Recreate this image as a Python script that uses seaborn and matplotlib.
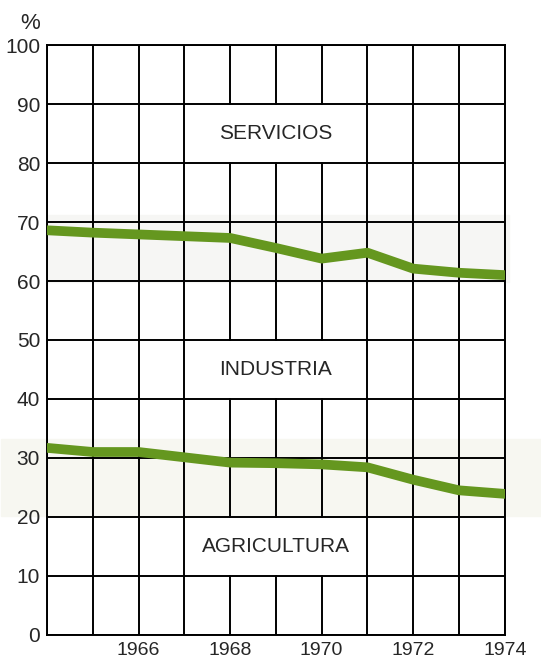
import pandas as pd
import matplotlib.pyplot as plt
import seaborn as sns
from matplotlib.patches import Rectangle

# Datos (porcentaje de la poblacion activa)
years = [1964, 1965, 1966, 1967, 1968, 1969, 1970, 1971, 1972, 1973, 1974]
# limite superior de industria (agricultura + industria)
industria_top = [68.6, 68.2, 67.9, 67.6, 67.3, 65.6, 63.8, 64.8, 62.1, 61.4, 61.0]
# limite superior de agricultura
agricultura_top = [31.7, 31.0, 31.0, 30.1, 29.2, 29.1, 28.9, 28.4, 26.3, 24.5, 23.9]

x_labels = ['', '', '1966', '', '1968', '', '1970', '', '1972', '', '1974']
y_ticks = [0, 10, 20, 30, 40, 50, 60, 70, 80, 90, 100]
sector_names = ['SERVICIOS', 'INDUSTRIA', 'AGRICULTURA']
sector_y = [85, 45, 15]

green = '#65971f'

df = pd.DataFrame({
    'year': years * 2,
    'value': industria_top + agricultura_top,
    'serie': ['industria'] * len(years) + ['agricultura'] * len(years),
})

sns.set_style('white')
plt.rcParams['font.family'] = ['Liberation Sans', 'DejaVu Sans']

fig = plt.figure(figsize=(5.41, 6.64), dpi=100)
ax = fig.add_axes([0.087, 0.044, 0.846, 0.888])

# bandas claras detras de las lineas
ax.axhspan(59.8, 71.2, xmin=0, xmax=1.01, color='#f6f6f4', zorder=0, clip_on=False)
ax.axhspan(20.2, 33.2, xmin=-0.1, xmax=1.1, color='#f7f7f1', zorder=0, clip_on=False)

ax.set_xlim(1964, 1974)
ax.set_ylim(0, 100)
ax.set_xticks(years)
ax.set_xticklabels(x_labels)
ax.set_yticks(y_ticks)
ax.set_yticklabels([str(v) for v in y_ticks])
ax.grid(True, color='black', linewidth=1.4, zorder=1)
ax.set_axisbelow(True)
for s in ax.spines.values():
    s.set_color('black')
    s.set_linewidth(1.4)
ax.tick_params(length=0, labelsize=15, pad=5)
ax.tick_params(axis='x', pad=5, labelsize=14)

# cajas blancas con los nombres de los sectores
for name, yc in zip(sector_names, sector_y):
    ax.add_patch(Rectangle((1967.05, yc - 4.8), 3.9, 9.6, facecolor='white',
                           edgecolor='none', zorder=2))
    ax.text(1969, yc, name, ha='center', va='center', fontsize=15, zorder=3)

sns.lineplot(data=df, x='year', y='value', units='serie', estimator=None,
             color=green, linewidth=7, ax=ax, zorder=4, legend=False)
ax.set_xlabel('')
ax.set_ylabel('')

fig.text(0.055, 0.965, '%', fontsize=16, ha='center', va='center')

fig.savefig('out.png', dpi=100)
